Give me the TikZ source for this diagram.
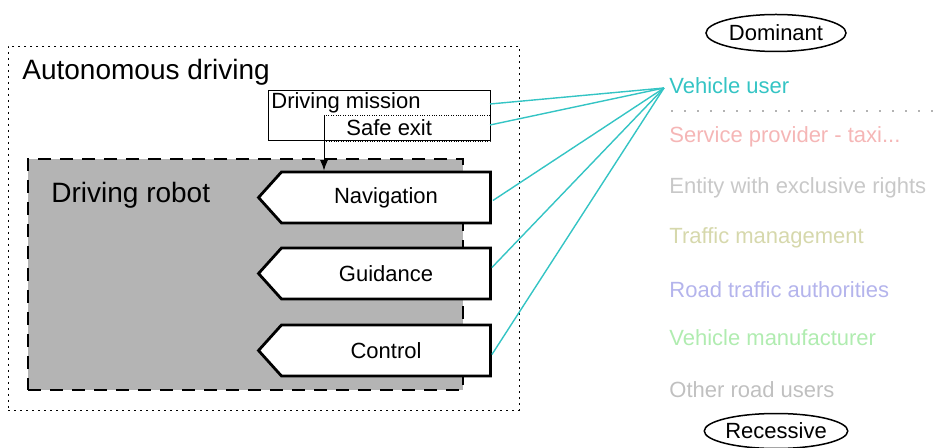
\documentclass[tikz,border=0pt]{standalone}
\usepackage{fontspec}
\setmainfont{Liberation Sans}
\usetikzlibrary{calc, shapes.symbols, shapes.geometric, arrows.meta, positioning}
\usepackage{xcolor}

\definecolor{usercolor}{RGB}{52,196,196}
\definecolor{servicecolor}{RGB}{245,182,182}
\definecolor{entitycolor}{RGB}{200,200,200}
\definecolor{trafficcolor}{RGB}{214,216,172}
\definecolor{roadcolor}{RGB}{180,180,236}
\definecolor{makercolor}{RGB}{176,236,176}
\definecolor{othercolor}{RGB}{192,192,192}
\definecolor{robotgray}{RGB}{180,180,180}

\begin{document}
\begin{tikzpicture}[x=0.5pt, y=-0.5pt, >=Latex, link/.style={draw=usercolor, line width=0.7pt}, frame/.style={draw, inner sep=0pt, outer sep=0pt}]
% Define styles for tasks, actors and ranks
\tikzstyle{task} = [draw, fill=white, signal, signal to=west, signal pointer angle=96, minimum width=116pt, minimum height=25.5pt, line width=1.4pt, inner sep=0pt, font=\fontsize{11}{13}\selectfont]
\tikzstyle{actor} = [anchor=west, inner sep=0pt, font=\fontsize{11}{13}\selectfont]
\tikzstyle{rank} = [draw, ellipse, line width=0.75pt, inner sep=0pt, font=\fontsize{11}{13}\selectfont]
\tikzstyle{big} = [anchor=west, inner sep=0pt, font=\fontsize{14}{16}\selectfont]

\useasboundingbox (0,0) rectangle (936,448);

% Frames
\node [frame, dash pattern=on 0.8pt off 2.2pt, minimum width=255.5pt, minimum height=182pt] (auto) at (263.5,228) {};
\node [frame, fill=robotgray, line width=0.9pt, dash pattern=on 6.5pt off 4.5pt, minimum width=217.5pt, minimum height=115.5pt] (robot) at (245.5,274.5) {};
\node [frame, fill=white, line width=0.5pt, minimum width=111pt, minimum height=25pt] (mission) at (379,116) {};
\node [frame, line width=0.4pt, dash pattern=on 0.4pt off 0.8pt, minimum width=83pt, minimum height=13pt] (exit) at (407,128) {};

% Labels
\node [big] (autolabel) at (22,72) {Autonomous driving};
\node [big] (robotlabel) at (51,195) {Driving robot};
\node [actor] (missionlabel) at (271,103) {Driving mission};
\node [actor] (exitlabel) at (346,128) {Safe exit};

% Tasks of the driving robot
\node [task] (nav) at (386,197.5) {Navigation};
\node [task, below of=nav, node distance=38pt] (guide) {Guidance};
\node [task, below of=guide, node distance=38.5pt] (control) {Control};

\draw [->, line width=0.5pt] (exit.north west) -- (exit.north west |- nav.north);

% Actors
\node [rank] (dominant) [minimum width=70pt, minimum height=18.5pt] at (776,33) {Dominant};
\node [actor, text=usercolor] (user) at (669,86) {Vehicle user};
\node [actor, text=servicecolor] (service) at (669,137) {Service provider - taxi...};
\node [actor, text=entitycolor] (entity) at (669,188) {Entity with exclusive rights};
\node [actor, text=trafficcolor] (traffic) at (669,238) {Traffic management};
\node [actor, text=roadcolor] (road) at (669,290) {Road traffic authorities};
\node [actor, text=makercolor] (maker) at (669,338) {Vehicle manufacturer};
\node [actor, text=othercolor] (other) at (669,390) {Other road users};
\node [rank] (recessive) [minimum width=68.5pt, minimum height=17.5pt] at (776,431) {Recessive};

% Separator below the vehicle user
\coordinate (sepstart) at (672,111);
\coordinate (sepend) at (934,111);
\draw [line width=0.8pt, line cap=round, dash pattern=on 0pt off 6.5pt, draw=gray!80!black] (sepstart) -- (sepend);

% Links from the vehicle user
\coordinate (hub) at (664,88);
\draw [link] (hub) -- ($(mission.north east)!0.26!(mission.south east)$);
\draw [link] (hub) -- ($(exit.east)+(0,-3)$);
\draw [link] (hub) -- ($(nav.east)+(1,3)$);
\draw [link] (hub) -- ($(guide.east)+(0,-6)$);
\draw [link] (hub) -- ($(control.east)+(0,4)$);

\end{tikzpicture}
\end{document}
